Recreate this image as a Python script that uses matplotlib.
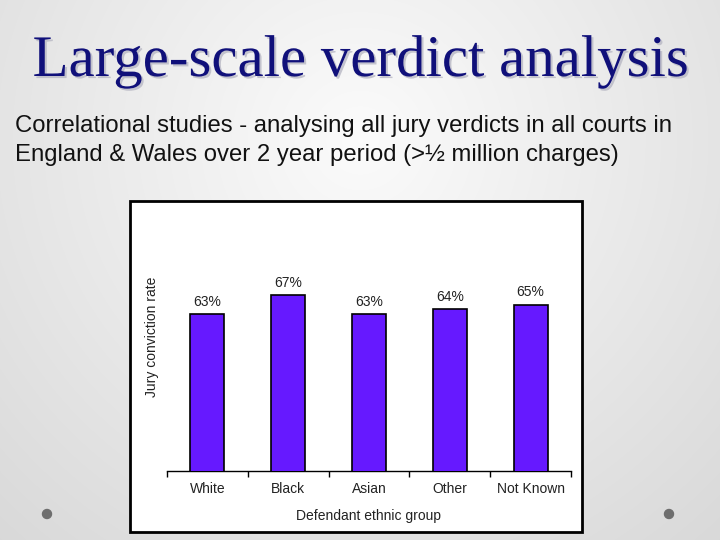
import numpy as np
import matplotlib
matplotlib.use("Agg")
import matplotlib.pyplot as plt
from matplotlib.patches import Rectangle, Circle
import matplotlib.patheffects as pe

categories = ["White", "Black", "Asian", "Other", "Not Known"]
rates = [63, 67, 63, 64, 65]
value_labels = ["63%", "67%", "63%", "64%", "65%"]

title = "Large-scale verdict analysis"
subtitle_lines = ["Correlational studies - analysing all jury verdicts in all courts in",
                  "England & Wales over 2 year period (>½ million charges)"]

W, H = 720, 540
fig = plt.figure(figsize=(7.2, 5.4), dpi=100)

# background gradient
bg = fig.add_axes([0, 0, 1, 1])
yy, xx = np.mgrid[0:H, 0:W]
r = np.sqrt(((xx - 360) / 560.0) ** 2 + ((yy - 140) / 560.0) ** 2)
val = 0.985 - 0.14 * np.clip(r, 0, 1.2)
img = np.dstack([val, val, val])
bg.imshow(img, extent=[0, W, H, 0], aspect="auto")
bg.set_xlim(0, W)
bg.set_ylim(H, 0)
bg.axis("off")

# dots
for cx in (47, 669):
    bg.add_patch(Circle((cx, 514), 4.5, color="#6e6e6e", zorder=3))

# title with shadow
bg.text(360, 76, title, fontsize=42.4, family="Liberation Serif", color="#10107a",
        ha="center", va="baseline", zorder=5,
        path_effects=[pe.withSimplePatchShadow(offset=(1.5, -1.5), shadow_rgbFace="#b8b8c4",
                                               alpha=0.8)])

for yb, line in zip((132, 161), subtitle_lines):
    bg.text(15, yb, line, fontsize=17.2, family="Liberation Sans", color="#111111",
            ha="left", va="baseline", zorder=5)

# chart frame
bg.add_patch(Rectangle((130, 201), 452, 331, facecolor="white", edgecolor="black",
                       linewidth=2.0, zorder=2))

# chart axes
left, right = 167 / W, 571 / W
bottom, top = 1 - 471 / H, 1 - 233.5 / H
ax = fig.add_axes([left, bottom, right - left, top - bottom])
ax.patch.set_alpha(0)
x = np.arange(len(categories))
ax.bar(x, rates, width=0.42, color="#6619FF", edgecolor="black", linewidth=1.2, zorder=3)
ax.set_xlim(-0.5, len(categories) - 0.5)
ax.set_ylim(30, 80)
for xi, v, lab in zip(x, rates, value_labels):
    ax.annotate(lab, (xi, v), xytext=(0, 4), textcoords="offset points",
                ha="center", va="bottom", fontsize=10, family="Liberation Sans",
                color="#222222")
for s in ("top", "right", "left"):
    ax.spines[s].set_visible(False)
ax.spines["bottom"].set_linewidth(1.0)
ax.set_yticks([])
ax.set_xticks(x)
ax.set_xticklabels(categories, fontsize=10, family="Liberation Sans", color="#222222")
ax.tick_params(axis="x", which="major", length=0, pad=8)
ax.set_xticks(np.arange(-0.5, len(categories)), minor=True)
ax.tick_params(axis="x", which="minor", length=4, width=1.0, direction="out")
ax.set_xlabel("Defendant ethnic group", fontsize=10, family="Liberation Sans",
              color="#222222", labelpad=9)

fig.text(152 / W, 1 - 337 / H, "Jury conviction rate", rotation=90, fontsize=10,
         family="Liberation Sans", color="#222222", ha="center", va="center")

fig.savefig("out.png", dpi=100)
